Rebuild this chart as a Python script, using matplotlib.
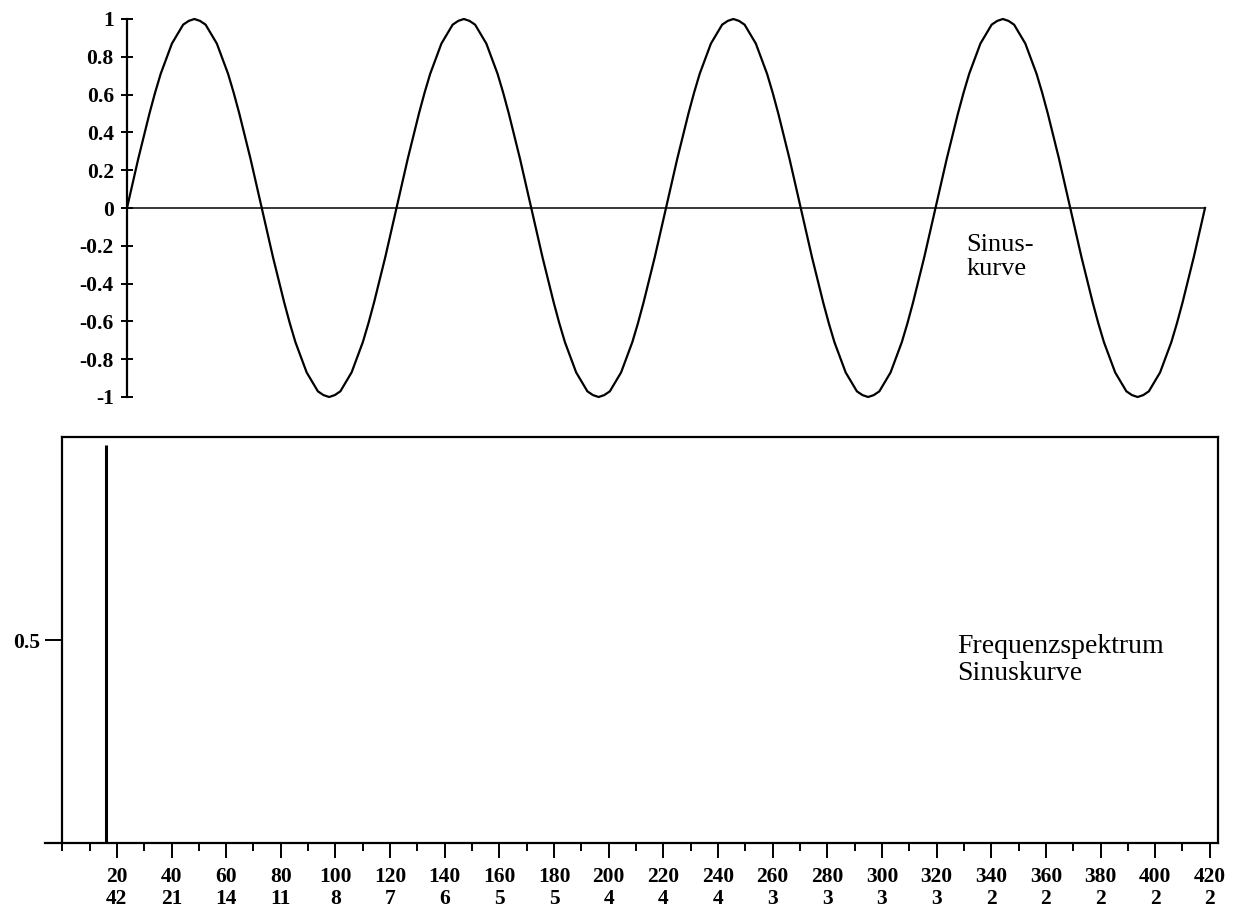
import numpy as np
import matplotlib
matplotlib.use('Agg')
import matplotlib.pyplot as plt
from matplotlib.ticker import FixedLocator

plt.rcParams['font.family'] = ['Liberation Serif', 'DejaVu Serif']

# sine curve, read every 1/48 period (4 periods)
sine_y = [
    0, 0.13, 0.26, 0.38, 0.5, 0.61, 0.71, 0.79, 0.87, 0.92, 0.97, 0.99,
    1.0, 0.99, 0.97, 0.92, 0.87, 0.79, 0.71, 0.61, 0.5, 0.38, 0.26, 0.13,
    0, -0.13, -0.26, -0.38, -0.5, -0.61, -0.71, -0.79, -0.87, -0.92, -0.97, -0.99,
    -1.0, -0.99, -0.97, -0.92, -0.87, -0.79, -0.71, -0.61, -0.5, -0.38, -0.26, -0.13,
    0, 0.13, 0.26, 0.38, 0.5, 0.61, 0.71, 0.79, 0.87, 0.92, 0.97, 0.99,
    1.0, 0.99, 0.97, 0.92, 0.87, 0.79, 0.71, 0.61, 0.5, 0.38, 0.26, 0.13,
    0, -0.13, -0.26, -0.38, -0.5, -0.61, -0.71, -0.79, -0.87, -0.92, -0.97, -0.99,
    -1.0, -0.99, -0.97, -0.92, -0.87, -0.79, -0.71, -0.61, -0.5, -0.38, -0.26, -0.13,
    0, 0.13, 0.26, 0.38, 0.5, 0.61, 0.71, 0.79, 0.87, 0.92, 0.97, 0.99,
    1.0, 0.99, 0.97, 0.92, 0.87, 0.79, 0.71, 0.61, 0.5, 0.38, 0.26, 0.13,
    0, -0.13, -0.26, -0.38, -0.5, -0.61, -0.71, -0.79, -0.87, -0.92, -0.97, -0.99,
    -1.0, -0.99, -0.97, -0.92, -0.87, -0.79, -0.71, -0.61, -0.5, -0.38, -0.26, -0.13,
    0, 0.13, 0.26, 0.38, 0.5, 0.61, 0.71, 0.79, 0.87, 0.92, 0.97, 0.99,
    1.0, 0.99, 0.97, 0.92, 0.87, 0.79, 0.71, 0.61, 0.5, 0.38, 0.26, 0.13,
    0, -0.13, -0.26, -0.38, -0.5, -0.61, -0.71, -0.79, -0.87, -0.92, -0.97, -0.99,
    -1.0, -0.99, -0.97, -0.92, -0.87, -0.79, -0.71, -0.61, -0.5, -0.38, -0.26, -0.13,
    0,
]
sine_x = np.arange(len(sine_y))

sine_yticks = [1, 0.8, 0.6, 0.4, 0.2, 0, -0.2, -0.4, -0.6, -0.8, -1]
sine_yticklabels = ['1', '0.8', '0.6', '0.4', '0.2', '0',
                    '-0.2', '-0.4', '-0.6', '-0.8', '-1']

# spectrum: one peak
peak_freq = [16]
peak_amp = [0.98]

freq_ticks = [20, 40, 60, 80, 100, 120, 140, 160, 180, 200, 220,
              240, 260, 280, 300, 320, 340, 360, 380, 400, 420]
period_labels = [42, 21, 14, 11, 8, 7, 6, 5, 5, 4, 4,
                 4, 3, 3, 3, 3, 2, 2, 2, 2, 2]
freq_minor = [0] + [f - 10 for f in freq_ticks if f > 10]

W, H = 1235, 911
fig = plt.figure(figsize=(W / 100, H / 100), dpi=100)

tick_font = dict(family=['Liberation Serif'], weight='bold', size=15.5)

# --- top: sine curve
ax1 = fig.add_axes([127 / W, (H - 397) / H, (1205 - 127) / W, (397 - 19) / H])
ax1.plot(sine_x, sine_y, color='black', lw=1.6, clip_on=False)
ax1.set_xlim(0, sine_x[-1])
ax1.set_ylim(-1, 1)
for s in ['top', 'right']:
    ax1.spines[s].set_visible(False)
ax1.spines['bottom'].set_position(('data', 0))
ax1.spines['bottom'].set_linewidth(1.1)
ax1.spines['left'].set_linewidth(1.6)
ax1.set_xticks([])
ax1.set_yticks(sine_yticks)
ax1.set_yticklabels(sine_yticklabels, fontdict=tick_font)
ax1.tick_params(axis='y', direction='inout', length=9, width=1.4, pad=5)
ax1.text(149.5, -0.26, 'Sinus-\nkurve', fontsize=19, va='center', ha='left',
         linespacing=1.15)

# --- bottom: frequency spectrum
x0, x1 = -6.3, 423
ax2 = fig.add_axes([45 / W, (H - 843) / H, (1218 - 45) / W, (843 - 437) / H])
ax2.vlines(peak_freq, 0, peak_amp, color='black', lw=2.2)
ax2.set_xlim(x0, x1)
ax2.set_ylim(0, 1)
ax2.spines['left'].set_position(('data', 0))
ax2.spines['top'].set_bounds(0, x1)
for s in ax2.spines.values():
    s.set_linewidth(1.6)
ax2.set_yticks([0.5])
ax2.set_yticklabels(['0.5'], fontdict=tick_font)
ax2.tick_params(axis='y', direction='out', length=12, width=1.4, pad=4)
ax2.set_xticks(freq_ticks)
ax2.set_xticklabels([f'{f}\n{p}' for f, p in zip(freq_ticks, period_labels)],
                    fontdict=tick_font, linespacing=1.15)
ax2.xaxis.set_minor_locator(FixedLocator(freq_minor))
ax2.tick_params(axis='x', which='major', direction='out', length=11, width=1.4, pad=6)
ax2.tick_params(axis='x', which='minor', direction='out', length=6, width=1.4)
ax2.text(327.5, 0.515, 'Frequenzspektrum\nSinuskurve', fontsize=20, va='top',
         ha='left', linespacing=1.1)

fig.savefig('out.png', dpi=100)
